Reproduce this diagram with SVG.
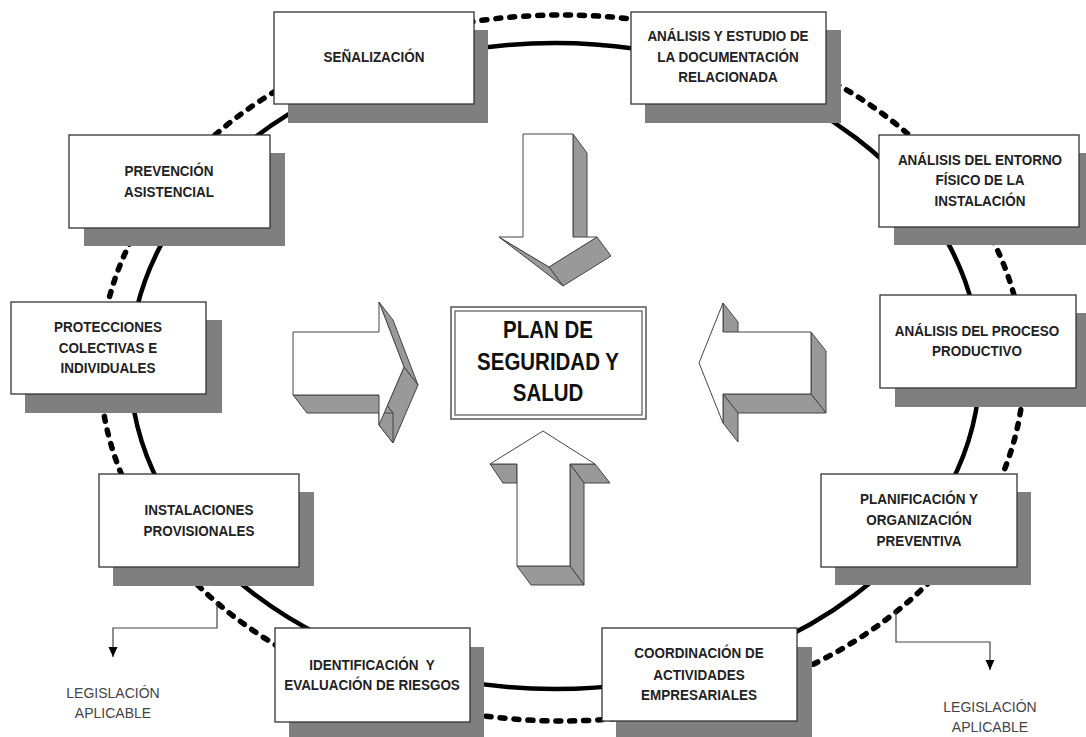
<svg xmlns="http://www.w3.org/2000/svg" width="1086" height="737" viewBox="0 0 1086 737">
<defs>
<style>
.shadow{fill:#7f7f7f;stroke:none}
.box{fill:#fff;stroke:#333;stroke-width:1.3}
.t{font-family:"Liberation Sans",Arial,sans-serif;font-weight:bold;font-size:15.5px;fill:#222;text-anchor:middle}
.big{font-family:"Liberation Sans",Arial,sans-serif;font-weight:bold;font-size:23px;fill:#111;text-anchor:middle}
.leg{font-family:"Liberation Sans",Arial,sans-serif;font-size:14px;fill:#444;text-anchor:middle}
.ring{fill:none;stroke:#000;stroke-width:4.5}
.dots{fill:none;stroke:#000;stroke-width:5.5;stroke-dasharray:5 9;stroke-linecap:round}
.face{fill:#999;stroke:#444;stroke-width:1;stroke-linejoin:round}
.front{fill:#fff;stroke:#444;stroke-width:1;stroke-linejoin:round}
.lk{fill:none;stroke:#444;stroke-width:1.2}
</style>
<marker id="ah" markerUnits="userSpaceOnUse" markerWidth="10" markerHeight="10" refX="10" refY="4.5" orient="auto">
<path d="M0,0 L10,4.5 L0,9 z" fill="#000"/>
</marker>
</defs>
<rect width="1086" height="737" fill="#fff"/>

<g id="connectors">
<ellipse class="dots" cx="562" cy="368" rx="462" ry="353"/>
<ellipse class="ring" cx="555" cy="366" rx="425" ry="323"/>
<polyline class="lk" points="217,603 217,628 113,628 113,657" marker-end="url(#ah)"/>
<polyline class="lk" points="896,612 896,642 990,642 990,670" marker-end="url(#ah)"/>
<g id="block-arrows">
<g id="arrow-down">
<polygon class="face" points="573,134 587,153 587,256 573,237"/>
<polygon class="face" points="597,237 611,256 563,286 549,267"/>
<polygon class="face" points="499,237 549,267 563,286"/>
<polygon class="front" points="523,134 573,134 573,237 597,237 549,267 499,237 523,237"/>
</g>
<g id="arrow-up">
<polygon class="face" points="490,464 517,464 517,483 503,483"/>
<polygon class="face" points="570,464 595,464 610,483 584,483"/>
<polygon class="face" points="570,464 584,483 584,585 570,566"/>
<polygon class="face" points="517,566 570,566 584,585 531,585"/>
<polygon class="front" points="543,431 595,464 570,464 570,566 517,566 517,464 490,464"/>
</g>
<g id="arrow-right">
<polygon class="face" points="379,302 404,367 418,385 393,320"/>
<polygon class="face" points="404,367 379,425 393,443 418,385"/>
<polygon class="face" points="379,425 379,395 393,413 393,443"/>
<polygon class="face" points="379,395 293,395 307,413 393,413"/>
<polygon class="front" points="293,332 379,332 379,302 404,367 379,425 379,395 293,395"/>
</g>
<g id="arrow-left">
<polygon class="face" points="723,303 738,322 738,351 723,332"/>
<polygon class="face" points="811,332 826,351 826,413 811,394"/>
<polygon class="face" points="811,394 723,394 738,413 826,413"/>
<polygon class="face" points="723,394 723,423 738,442 738,413"/>
<polygon class="front" points="699,363 723,303 723,332 811,332 811,394 723,394 723,423"/>
</g>
</g>
</g>

<g id="n-senalizacion">
<rect class="shadow" x="288" y="30" width="200" height="93"/>
<rect class="box" x="274" y="12" width="200" height="92"/>
<text class="t" transform="translate(374 0) scale(0.87 1)"><tspan x="0" y="62">SEÑALIZACIÓN</tspan></text>
</g>

<g id="n-analisis-doc">
<rect class="shadow" x="645" y="30" width="196" height="93"/>
<rect class="box" x="631" y="12" width="195" height="92"/>
<text class="t" transform="translate(728 0) scale(0.87 1)"><tspan x="0" y="41">ANÁLISIS Y ESTUDIO DE</tspan><tspan x="0" y="62">LA DOCUMENTACIÓN</tspan><tspan x="0" y="82">RELACIONADA</tspan></text>
</g>

<g id="n-entorno">
<rect class="shadow" x="894" y="153" width="200" height="92"/>
<rect class="box" x="879" y="135" width="200" height="92"/>
<text class="t" transform="translate(980 0) scale(0.87 1)"><tspan x="0" y="165">ANÁLISIS DEL ENTORNO</tspan><tspan x="0" y="185">FÍSICO DE LA</tspan><tspan x="0" y="206">INSTALACIÓN</tspan></text>
</g>

<g id="n-proceso">
<rect class="shadow" x="895" y="313" width="200" height="94"/>
<rect class="box" x="880" y="295" width="196" height="93"/>
<text class="t" transform="translate(977 0) scale(0.87 1)"><tspan x="0" y="336">ANÁLISIS DEL PROCESO</tspan><tspan x="0" y="356">PRODUCTIVO</tspan></text>
</g>

<g id="n-planificacion">
<rect class="shadow" x="835" y="492" width="196" height="93"/>
<rect class="box" x="821" y="474" width="196" height="93"/>
<text class="t" transform="translate(919 0) scale(0.87 1)"><tspan x="0" y="504">PLANIFICACIÓN Y</tspan><tspan x="0" y="525">ORGANIZACIÓN</tspan><tspan x="0" y="546">PREVENTIVA</tspan></text>
</g>

<g id="n-coordinacion">
<rect class="shadow" x="616" y="647" width="196" height="95"/>
<rect class="box" x="602" y="628" width="195" height="93"/>
<text class="t" transform="translate(699 0) scale(0.87 1)"><tspan x="0" y="658">COORDINACIÓN DE</tspan><tspan x="0" y="680">ACTIVIDADES</tspan><tspan x="0" y="700">EMPRESARIALES</tspan></text>
</g>

<g id="n-identificacion">
<rect class="shadow" x="289" y="647" width="195" height="95"/>
<rect class="box" x="275" y="628" width="195" height="94"/>
<text class="t" style="white-space:pre" transform="translate(372 0) scale(0.87 1)"><tspan x="0" y="670">IDENTIFICACIÓN  Y</tspan><tspan x="0" y="690">EVALUACIÓN DE RIESGOS</tspan></text>
</g>

<g id="n-instalaciones">
<rect class="shadow" x="113" y="492" width="201" height="94"/>
<rect class="box" x="99" y="474" width="200" height="93"/>
<text class="t" transform="translate(199 0) scale(0.87 1)"><tspan x="0" y="515">INSTALACIONES</tspan><tspan x="0" y="536">PROVISIONALES</tspan></text>
</g>

<g id="n-protecciones">
<rect class="shadow" x="25" y="320" width="197" height="93"/>
<rect class="box" x="11" y="302" width="195" height="92"/>
<text class="t" transform="translate(108 0) scale(0.87 1)"><tspan x="0" y="332">PROTECCIONES</tspan><tspan x="0" y="353">COLECTIVAS E</tspan><tspan x="0" y="373">INDIVIDUALES</tspan></text>
</g>

<g id="n-prevencion">
<rect class="shadow" x="84" y="153" width="201" height="93"/>
<rect class="box" x="69" y="135" width="201" height="93"/>
<text class="t" transform="translate(169 0) scale(0.87 1)"><tspan x="0" y="176">PREVENCIÓN</tspan><tspan x="0" y="197">ASISTENCIAL</tspan></text>
</g>

<g id="n-plan">
<rect x="451" y="307" width="195" height="112" fill="#fff" stroke="#555" stroke-width="1.5"/>
<rect x="455" y="311" width="187" height="104" fill="none" stroke="#555" stroke-width="1.2"/>
<text class="big" transform="translate(548 0) scale(0.89 1)"><tspan x="0" y="338">PLAN DE</tspan><tspan x="0" y="370">SEGURIDAD Y</tspan><tspan x="0" y="401">SALUD</tspan></text>
</g>

<g id="legislacion-left">
<text class="leg"><tspan x="113" y="698">LEGISLACIÓN</tspan><tspan x="113" y="718">APLICABLE</tspan></text>
</g>
<g id="legislacion-right">
<text class="leg"><tspan x="990" y="712">LEGISLACIÓN</tspan><tspan x="990" y="732">APLICABLE</tspan></text>
</g>
</svg>
